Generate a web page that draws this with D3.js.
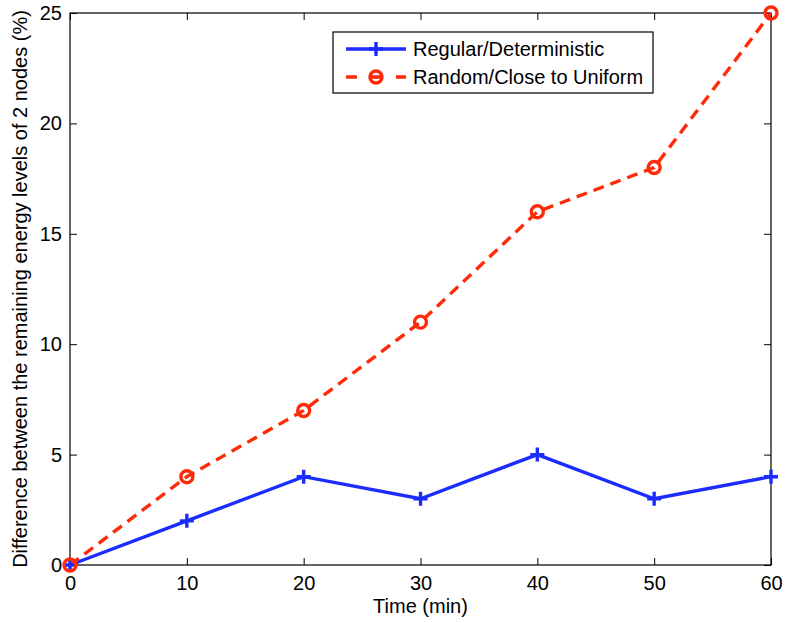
<!DOCTYPE html>
<html><head><meta charset="utf-8">
<script src="https://cdn.jsdelivr.net/npm/d3@7"></script>
<style>body{margin:0;background:#fff}svg{display:block}text{font-family:"Liberation Sans",Arial,Helvetica,sans-serif}</style>
</head><body>
<script>
const times = [0, 10, 20, 30, 40, 50, 60];
const regular = [0, 2, 4, 3, 5, 3, 4];
const random = [0, 4, 7, 11, 16, 18, 25];
const xTicks = [0, 10, 20, 30, 40, 50, 60];
const yTicks = [0, 5, 10, 15, 20, 25];
const seriesNames = ["Regular/Deterministic", "Random/Close to Uniform"];

const W = 786, H = 623;
const L = 70, R = 771, T = 13, B = 565;
const blue = "#1a2cff", red = "#ff2a0a";

const svg = d3.select("body").append("svg").attr("width", W).attr("height", H);
const x = d3.scaleLinear().domain([0, 60]).range([L, R]);
const y = d3.scaleLinear().domain([0, 25]).range([B, T]);

const fs = 20;
const tl = 7;
svg.append("g").attr("transform", `translate(0,${B})`)
  .call(d3.axisBottom(x).tickValues(xTicks).tickSize(-tl).tickPadding(tl + 4).tickFormat(d3.format("d")))
  .call(g => { g.select(".domain").remove(); g.attr("font-size", fs).attr("font-family", null); g.selectAll("text").attr("fill", "#000"); });
svg.append("g").attr("transform", `translate(0,${T})`)
  .call(d3.axisTop(x).tickValues(xTicks).tickSize(-tl).tickFormat(""))
  .call(g => g.select(".domain").remove());
svg.append("g").attr("transform", `translate(${L},0)`)
  .call(d3.axisLeft(y).tickValues(yTicks).tickSize(-tl).tickPadding(tl + 1).tickFormat(d3.format("d")))
  .call(g => { g.select(".domain").remove(); g.attr("font-size", fs).attr("font-family", null); g.selectAll("text").attr("fill", "#000"); });
svg.append("g").attr("transform", `translate(${R},0)`)
  .call(d3.axisRight(y).tickValues(yTicks).tickSize(-tl).tickFormat(""))
  .call(g => g.select(".domain").remove());
svg.selectAll(".tick line").attr("stroke", "#000");
svg.append("rect").attr("x", L).attr("y", T).attr("width", R - L).attr("height", B - T)
  .attr("fill", "none").attr("stroke", "#000").attr("stroke-width", 1.2);

svg.append("text").attr("x", (L + R) / 2).attr("y", 613).attr("text-anchor", "middle")
  .attr("font-size", fs).text("Time (min)");
svg.append("text").attr("transform", `translate(27,${(T + B) / 2}) rotate(-90)`).attr("text-anchor", "middle")
  .attr("font-size", fs).text("Difference between the remaining energy levels of 2 nodes (%)");

const line = d3.line().x((d, i) => x(times[i])).y(d => y(d));

const plot = svg.append("g");
plot.append("path").datum(regular).attr("d", line).attr("fill", "none")
  .attr("stroke", blue).attr("stroke-width", 3.4).attr("stroke-linejoin", "miter");
plot.append("path").datum(random).attr("d", line).attr("fill", "none")
  .attr("stroke", red).attr("stroke-width", 3.4).attr("stroke-dasharray", "11,7");

function plus(g, cx, cy, color) {
  g.append("path").attr("d", `M${cx - 7},${cy}H${cx + 7}M${cx},${cy - 7}V${cy + 7}`)
    .attr("stroke", color).attr("stroke-width", 3.4).attr("fill", "none");
}
function circ(g, cx, cy, color) {
  g.append("circle").attr("cx", cx).attr("cy", cy).attr("r", 6)
    .attr("fill", "none").attr("stroke", color).attr("stroke-width", 3.4);
}
regular.forEach((v, i) => plus(plot, x(times[i]), y(v), blue));
random.forEach((v, i) => circ(plot, x(times[i]), y(v), red));

const lg = svg.append("g");
lg.append("rect").attr("x", 333).attr("y", 32).attr("width", 320).attr("height", 61)
  .attr("fill", "#fff").attr("stroke", "#000").attr("stroke-width", 1.2);
const ly = [49, 77];
lg.append("line").attr("x1", 346).attr("x2", 406).attr("y1", ly[0]).attr("y2", ly[0])
  .attr("stroke", blue).attr("stroke-width", 3.4);
plus(lg, 376, ly[0], blue);
lg.append("line").attr("x1", 346).attr("x2", 406).attr("y1", ly[1]).attr("y2", ly[1])
  .attr("stroke", red).attr("stroke-width", 3.4).attr("stroke-dasharray", "11,14");
circ(lg, 376, ly[1], red);
lg.append("line").attr("x1", 371).attr("x2", 381).attr("y1", ly[1]).attr("y2", ly[1])
  .attr("stroke", red).attr("stroke-width", 2.5);
seriesNames.forEach((n, i) => lg.append("text").attr("x", 413).attr("y", ly[i] + 7)
  .attr("font-size", fs).text(n));
</script>
</body></html>
